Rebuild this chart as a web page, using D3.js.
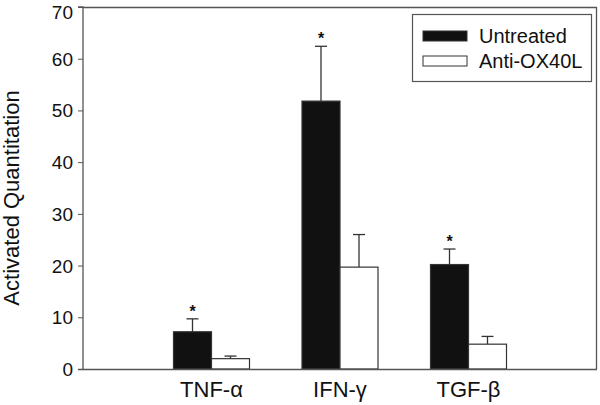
<!DOCTYPE html>
<html><head><meta charset="utf-8">
<script src="https://cdn.jsdelivr.net/npm/d3@7"></script>
<style>body{margin:0;background:#fff}svg{display:block}text{font-family:"Liberation Sans",Arial,sans-serif;fill:#111}</style>
</head><body>
<svg id="c" width="600" height="405"></svg>
<script>
const categories = ["TNF-\u03b1", "IFN-\u03b3", "TGF-\u03b2"];
const seriesNames = ["Untreated", "Anti-OX40L"];
const untreated = [7.2, 51.8, 20.2];
const untreatedErr = [2.5, 10.6, 3.0];
const antiOX40L = [2.0, 19.7, 4.8];
const antiOX40LErr = [0.5, 6.3, 1.5];
const significant = [true, true, true];
const yTicks = [0, 10, 20, 30, 40, 50, 60, 70];

const svg = d3.select("#c");
const L = 83, R = 597, T = 7, B = 369;
const x = d3.scaleLinear().domain([0, 4]).range([L, R]);
const y = d3.scaleLinear().domain([0, 70]).range([B, T]);
const barW = 38;
const axisCol = "#555";

// frame top and right
svg.append("line").attr("x1", L).attr("x2", R).attr("y1", T + 0.5).attr("y2", T + 0.5).attr("stroke", axisCol).attr("stroke-width", 1.3);
svg.append("line").attr("x1", R - 0.5).attr("x2", R - 0.5).attr("y1", T).attr("y2", B).attr("stroke", axisCol).attr("stroke-width", 1.3);

const series = [
  {vals: untreated, err: untreatedErr, fill: "#111", off: -1},
  {vals: antiOX40L, err: antiOX40LErr, fill: "#fff", off: 0}
];
series.forEach(s => {
  categories.forEach((c, i) => {
    const cx = x(i + 1);
    const x0 = cx + s.off * barW;
    const v = s.vals[i], e = s.err[i];
    const xm = x0 + barW / 2;
    svg.append("line").attr("x1", xm).attr("x2", xm).attr("y1", y(v)).attr("y2", y(v + e)).attr("stroke", "#333").attr("stroke-width", 1.3);
    svg.append("line").attr("x1", xm - 6).attr("x2", xm + 6).attr("y1", y(v + e)).attr("y2", y(v + e)).attr("stroke", "#333").attr("stroke-width", 1.3);
    svg.append("rect").attr("x", x0).attr("y", y(v)).attr("width", barW).attr("height", y(0) - y(v))
      .attr("fill", s.fill).attr("stroke", "#333").attr("stroke-width", 1.2);
    if (s.off === -1 && significant[i]) {
      svg.append("text").attr("x", xm).attr("y", y(v + e) - 2).attr("text-anchor", "middle")
        .style("font-size", "16px").style("font-weight", "bold").text("*");
    }
  });
});

// axes
const yAxis = svg.append("g").attr("transform", `translate(${L},0)`)
  .call(d3.axisLeft(y).tickValues(yTicks).tickSize(5).tickPadding(5).tickFormat(d3.format("d")));
yAxis.select(".domain").attr("stroke", axisCol).attr("stroke-width", 1.3).attr("d", `M-5,${y(70)}H0V${B}`);
yAxis.selectAll(".tick line").attr("stroke", axisCol);
yAxis.selectAll(".tick text").style("font-size", "19px").style("font-family", "Liberation Sans, Arial, sans-serif")
  .attr("fill", "#111").attr("dy", d => d === 70 ? "0.62em" : "0.34em");

svg.append("line").attr("x1", L - 5).attr("x2", R).attr("y1", B + 0.5).attr("y2", B + 0.5).attr("stroke", axisCol).attr("stroke-width", 1.6);

// category labels
categories.forEach((c, i) => {
  svg.append("text").attr("x", x(i + 1)).attr("y", 397).attr("text-anchor", "middle").style("font-size", "22px").text(c);
});

// y title
svg.append("text").attr("transform", `translate(19,${(T + B) / 2 + 10}) rotate(-90)`).attr("text-anchor", "middle")
  .style("font-size", "22px").text("Activated Quantitation");

// legend
const lg = svg.append("g");
lg.append("rect").attr("x", 412.5).attr("y", 14.5).attr("width", 179).attr("height", 67).attr("fill", "#fff").attr("stroke", "#555").attr("stroke-width", 1.2);
seriesNames.forEach((n, i) => {
  const yy = 31 + i * 25;
  lg.append("rect").attr("x", 423).attr("y", yy).attr("width", 44).attr("height", 10)
    .attr("fill", series[i].fill).attr("stroke", "#333").attr("stroke-width", 1);
  lg.append("text").attr("x", 479).attr("y", yy + 12).style("font-size", "20px").text(n);
});
</script>
</body></html>
